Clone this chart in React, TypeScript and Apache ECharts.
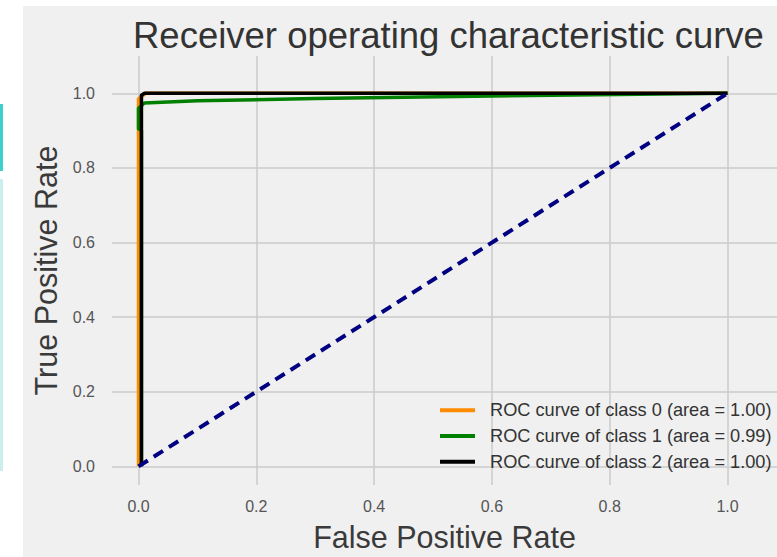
import React, { useEffect, useRef } from "react";
import * as echarts from "echarts";

const titleText = "Receiver operating characteristic curve";
const xName = "False Positive Rate";
const yName = "True Positive Rate";
const tickValues = [0, 0.2, 0.4, 0.6, 0.8, 1.0];

const class0Name = "ROC curve of class 0 (area = 1.00)";
const class0Fpr = [0, 0, 0.012, 1];
const class0Tpr = [0, 0.985, 1.0, 1.0];

const class1Name = "ROC curve of class 1 (area = 0.99)";
const class1Fpr = [0.005, 0.005, 0, 0, 0.01, 0.1, 0.3, 0.6, 1];
const class1Tpr = [0, 0.9, 0.905, 0.96, 0.974, 0.98, 0.986, 0.993, 1.0];

const class2Name = "ROC curve of class 2 (area = 1.00)";
const class2Fpr = [0.005, 0.005, 0.01, 1];
const class2Tpr = [0, 0.995, 1.0, 1.0];

const chanceFpr = [0, 1];
const chanceTpr = [0, 1];

const pairs = (xs: number[], ys: number[]) => xs.map((x, i) => [x, ys[i]]);

const FONT = "'Liberation Sans', Arial, sans-serif";

export default function App() {
  const ref = useRef<HTMLDivElement>(null);
  useEffect(() => {
    if (!ref.current) return;
    const chart = echarts.init(ref.current, undefined, { renderer: "svg" });
    const axisCommon = {
      type: "value" as const,
      axisLine: { show: false },
      axisTick: { show: false, customValues: tickValues },
      splitLine: { show: true, lineStyle: { color: "#cbcbcb", width: 1.5 } },
      nameLocation: "middle" as const,
      nameTextStyle: { fontFamily: FONT, fontSize: 30.5, color: "#3a3a3a" },
    };
    chart.setOption({
      animation: false,
      backgroundColor: "#ffffff",
      textStyle: { fontFamily: FONT },
      graphic: [
        { type: "rect", z: -10, shape: { x: 23, y: 6, width: 760, height: 560 }, style: { fill: "#f0f0f0" } },
        { type: "rect", z: -10, shape: { x: 0, y: 104, width: 3, height: 67 }, style: { fill: "#3ecfcf" } },
        { type: "rect", z: -10, shape: { x: 0, y: 179, width: 3, height: 292 }, style: { fill: "#cdeeee" } },
      ],
      title: {
        text: titleText,
        left: 128,
        top: 12,
        textStyle: { fontFamily: FONT, fontSize: 36.5, fontWeight: "normal", color: "#333333" },
      },
      grid: { left: 112, top: 56, width: 665, height: 429, containLabel: false },
      xAxis: {
        ...axisCommon,
        min: -0.045,
        max: 1.084,
        name: xName,
        nameGap: 36,
        axisLabel: {
          customValues: tickValues,
          margin: 13,
          fontFamily: FONT,
          fontSize: 16,
          color: "#555555",
          formatter: (v: number) => v.toFixed(1),
        },
      },
      yAxis: {
        ...axisCommon,
        min: -0.05,
        max: 1.1,
        name: yName,
        nameGap: 50,
        nameRotate: 90,
        axisLabel: {
          customValues: tickValues,
          margin: 17,
          fontFamily: FONT,
          fontSize: 16,
          color: "#555555",
          formatter: (v: number) => v.toFixed(1),
        },
      },
      legend: {
        orient: "vertical",
        left: 435,
        top: 396,
        itemWidth: 35,
        itemHeight: 4,
        itemGap: 7.3,
        icon: "rect",
        data: [class0Name, class1Name, class2Name],
        textStyle: { fontFamily: FONT, fontSize: 18.2, color: "#333333", lineHeight: 18.5, padding: [0, 0, 0, 10] },
      },
      series: [
        {
          name: class0Name,
          type: "line",
          data: pairs(class0Fpr, class0Tpr),
          showSymbol: false,
          lineStyle: { color: "#ff8c00", width: 3.5, join: "round" },
          itemStyle: { color: "#ff8c00" },
        },
        {
          name: class1Name,
          type: "line",
          data: pairs(class1Fpr, class1Tpr),
          showSymbol: false,
          lineStyle: { color: "#008000", width: 3.5, join: "round" },
          itemStyle: { color: "#008000" },
        },
        {
          name: class2Name,
          type: "line",
          data: pairs(class2Fpr, class2Tpr),
          showSymbol: false,
          lineStyle: { color: "#000000", width: 3.5, join: "round" },
          itemStyle: { color: "#000000" },
        },
        {
          name: "chance",
          type: "line",
          data: pairs(chanceFpr, chanceTpr),
          showSymbol: false,
          lineStyle: { color: "#000080", width: 4, type: [11, 7] },
          itemStyle: { color: "#000080" },
        },
      ],
    });
    return () => chart.dispose();
  }, []);
  return (
    <div
      ref={ref}
      style={{ position: "absolute", left: 0, top: 0, width: 777, height: 557 }}
    />
  );
}
